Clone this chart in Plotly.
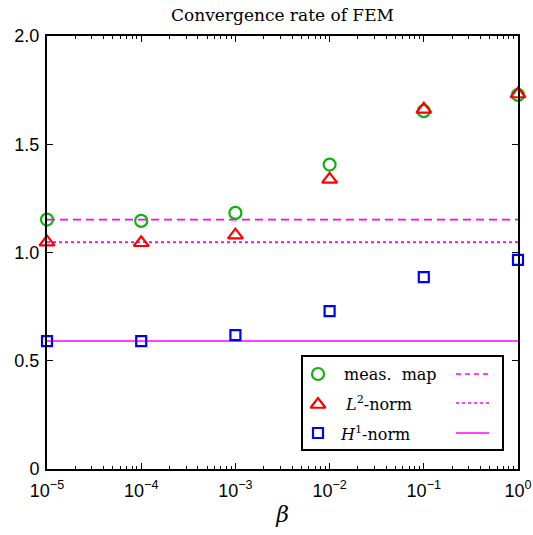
import plotly.graph_objects as go

# ---- data ----
beta = [1e-5, 1e-4, 1e-3, 1e-2, 1e-1, 1e0]
meas_map = [1.152, 1.146, 1.183, 1.406, 1.653, 1.728]
l2_norm = [1.048, 1.045, 1.080, 1.338, 1.661, 1.732]
h1_norm = [0.591, 0.591, 0.618, 0.729, 0.886, 0.966]
x_ticks = [1e-5, 1e-4, 1e-3, 1e-2, 1e-1, 1e0]
x_ticklabels = ["10<sup>−5</sup>", "10<sup>−4</sup>", "10<sup>−3</sup>", "10<sup>−2</sup>", "10<sup>−1</sup>", "10<sup>0</sup>"]
y_ticks = [0, 0.5, 1.0, 1.5, 2.0]
y_ticklabels = ["0", "0.5", "1.0", "1.5", "2.0"]
legend_labels = ["meas.&nbsp;&nbsp;map", "<i>L</i><sup>2</sup>-norm", "<i>H</i><sup>1</sup>-norm"]

GREEN = "#12b012"
RED = "#ff0000"
BLUE = "#0000ff"
MAG = "#ff00ff"
SERIF = "DejaVu Serif"
SANS = "Liberation Sans"

fig = go.Figure()

# reference horizontal lines (first value of each series)
xr = [beta[0], beta[-1]]
for vals, dash in [(meas_map, "8px,5px"), (l2_norm, "dot"), (h1_norm, "solid")]:
    fig.add_trace(go.Scatter(x=xr, y=[vals[0], vals[0]], mode="lines",
                             line=dict(color=MAG, width=1.6, dash=dash),
                             showlegend=False, hoverinfo="skip"))

marker_specs = [
    (meas_map, "circle-open", GREEN, 12),
    (l2_norm, "triangle-up-open", RED, 13),
    (h1_norm, "square-open", BLUE, 10),
]
for vals, sym, col, sz in marker_specs:
    fig.add_trace(go.Scatter(x=beta, y=vals, mode="markers",
                             marker=dict(symbol=sym, size=sz, color=col, line=dict(color=col, width=2.2)),
                             cliponaxis=False, showlegend=False))

# ---- custom legend (paper-based overlay axes) ----
W, H = 533, 535
L, R, T, B = 47, 15, 36, 66
pw, ph = W - L - R, H - T - B


def px_x(x):
    return (x - L) / pw


def px_y(y):
    return (H - B - y) / ph


rows_y = [374, 403, 433]
marker_x = 318
text_x = [342, 343, 338]
for i, (vals, sym, col, sz) in enumerate(marker_specs):
    fig.add_trace(go.Scatter(x=[px_x(marker_x)], y=[px_y(rows_y[i] + (1.5 if 'triangle' in sym else 0))],
                             xaxis="x2", yaxis="y2", mode="markers",
                             marker=dict(symbol=sym, size=sz, color=col, line=dict(color=col, width=2.2)),
                             cliponaxis=False, showlegend=False, hoverinfo="skip"))

shapes = [dict(type="rect", xref="paper", yref="paper",
               x0=px_x(302), x1=px_x(503), y0=px_y(450), y1=px_y(356),
               line=dict(color="black", width=2), fillcolor="white", layer="below")]
for i, dash in enumerate(["5px,4px", "dot", "solid"]):
    shapes.append(dict(type="line", xref="paper", yref="paper",
                       x0=px_x(456), x1=px_x(489), y0=px_y(rows_y[i]), y1=px_y(rows_y[i]),
                       line=dict(color=MAG, width=1.6, dash=dash)))

annotations = []
for i, lab in enumerate(legend_labels):
    annotations.append(dict(text=lab, xref="paper", yref="paper", x=px_x(text_x[i]), y=px_y(rows_y[i]),
                            xanchor="left", yanchor="middle", showarrow=False,
                            font=dict(family=SERIF, size=16, color="black")))

fig.update_layout(
    width=W, height=H,
    margin=dict(l=L, r=R, t=T, b=B, autoexpand=False),
    paper_bgcolor="white", plot_bgcolor="white",
    title=dict(text="Convergence rate of FEM", x=0.5, xanchor="center", y=1 - 15 / H, yanchor="middle",
               xref="paper", font=dict(family=SERIF, size=17, color="black")),
    xaxis=dict(type="log", range=[-5, 0], tickvals=x_ticks, ticktext=x_ticklabels, automargin=False,
               showgrid=False, zeroline=False, ticks="inside", ticklen=6, tickwidth=1, tickcolor="black",
               showline=True, linecolor="black", linewidth=2, mirror="ticks",
               tickfont=dict(family=SANS, size=18, color="black"), ticklabelstandoff=4,
               minor=dict(ticks="inside", ticklen=3, tickcolor="black", dtick="D1", showgrid=False),
               title=dict(text="<i>β</i>", font=dict(family=SERIF, size=22, color="black"), standoff=7)),
    yaxis=dict(range=[0, 2], tickvals=y_ticks, ticktext=y_ticklabels, automargin=False,
               showgrid=False, zeroline=False, ticks="inside", ticklen=6, tickwidth=1, tickcolor="black",
               showline=True, linecolor="black", linewidth=2, mirror="ticks",
               tickfont=dict(family=SANS, size=18, color="black"), ticklabelstandoff=2),
    xaxis2=dict(domain=[0, 1], range=[0, 1], overlaying="x", visible=False, anchor="y2"),
    yaxis2=dict(domain=[0, 1], range=[0, 1], overlaying="y", visible=False, anchor="x2"),
    shapes=shapes, annotations=annotations,
)

fig.write_html("out.html", config={"displayModeBar": False},
               post_script="document.body.style.margin='0';document.body.style.overflow='hidden';")
